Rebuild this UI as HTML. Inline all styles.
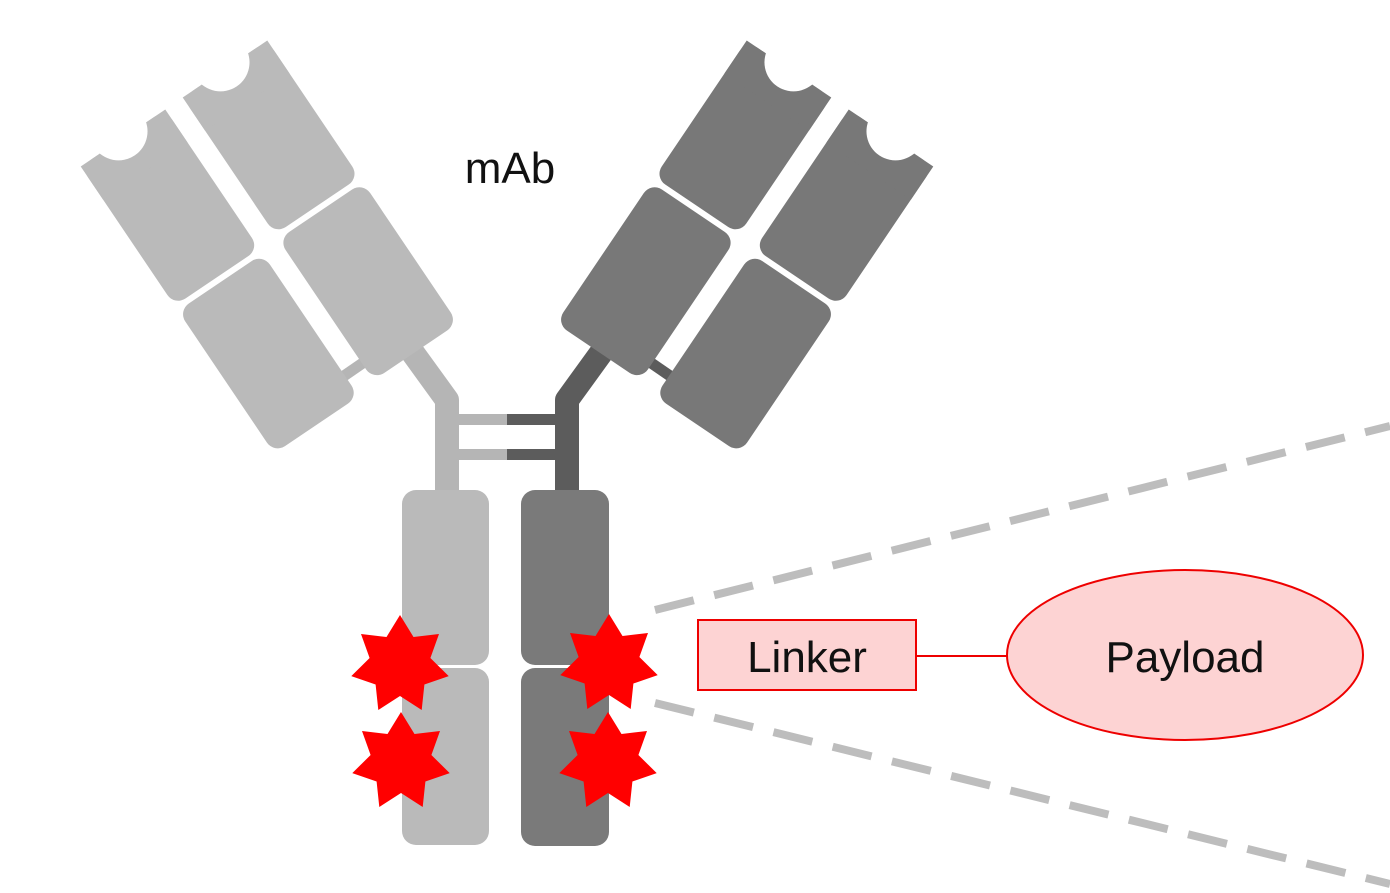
<!DOCTYPE html>
<html><head><meta charset="utf-8"><style>
html,body{margin:0;padding:0;background:#fff;}
svg{display:block;}
text{font-family:"Liberation Sans",sans-serif;fill:#111;}
</style></head><body>
<svg width="1390" height="893" viewBox="0 0 1390 893" xmlns="http://www.w3.org/2000/svg">
<!-- left arm -->
<g fill="#bababa">
  <path d="M405,342 L447,400 L447,495" fill="none" stroke="#b5b5b5" stroke-width="24" stroke-linejoin="round"/>
  <line x1="338" y1="380" x2="370" y2="358" stroke="#b5b5b5" stroke-width="11"/>
  <g transform="translate(123,138) rotate(-34)">
    <rect x="-51" y="0" width="102" height="168" rx="13"/>
    <rect x="-51" y="0" width="102" height="40"/>
    <rect x="-51" y="174" width="102" height="172" rx="13"/>
    <circle cx="0" cy="-8" r="29" fill="#fff"/>
  </g>
  <g transform="translate(225,69) rotate(-34)">
    <rect x="-51" y="0" width="102" height="165" rx="13"/>
    <rect x="-51" y="0" width="102" height="40"/>
    <rect x="-51" y="171" width="102" height="170" rx="13"/>
    <circle cx="0" cy="-8" r="29" fill="#fff"/>
  </g>
</g>
<!-- right arm (mirror) -->
<g fill="#787878" transform="translate(1014,0) scale(-1,1)">
  <path d="M405,342 L447,400 L447,495" fill="none" stroke="#5c5c5c" stroke-width="24" stroke-linejoin="round"/>
  <line x1="338" y1="380" x2="370" y2="358" stroke="#5c5c5c" stroke-width="11"/>
  <g transform="translate(123,138) rotate(-34)">
    <rect x="-51" y="0" width="102" height="168" rx="13"/>
    <rect x="-51" y="0" width="102" height="40"/>
    <rect x="-51" y="174" width="102" height="172" rx="13"/>
    <circle cx="0" cy="-8" r="29" fill="#fff"/>
  </g>
  <g transform="translate(225,69) rotate(-34)">
    <rect x="-51" y="0" width="102" height="165" rx="13"/>
    <rect x="-51" y="0" width="102" height="40"/>
    <rect x="-51" y="171" width="102" height="170" rx="13"/>
    <circle cx="0" cy="-8" r="29" fill="#fff"/>
  </g>
</g>
<!-- disulfide bridges -->
<rect x="458" y="414" width="49" height="11" fill="#b5b5b5"/>
<rect x="507" y="414" width="50" height="11" fill="#5c5c5c"/>
<rect x="458" y="449" width="49" height="11" fill="#b5b5b5"/>
<rect x="507" y="449" width="50" height="11" fill="#5c5c5c"/>
<!-- Fc -->
<rect x="402" y="490" width="87" height="175" rx="14" fill="#bababa"/>
<rect x="402" y="668" width="87" height="177" rx="14" fill="#bababa"/>
<rect x="521" y="490" width="88" height="175" rx="14" fill="#7a7a7a"/>
<rect x="521" y="668" width="88" height="178" rx="14" fill="#7a7a7a"/>
<!-- dashed lines -->
<line x1="655" y1="610" x2="1390" y2="426" stroke="#bdbdbd" stroke-width="8" stroke-dasharray="40,21"/>
<line x1="655" y1="703" x2="1390" y2="884" stroke="#bdbdbd" stroke-width="8" stroke-dasharray="40,21"/>
<!-- stars -->
<g fill="#ff0000">
<polygon points="0,-50 13.5,-28 39,-31 30.4,-7 48.7,11.1 24.4,19.5 21.7,45 0,31 -21.7,45 -24.4,19.5 -48.7,11.1 -30.4,-7 -39,-31 -13.5,-28" transform="translate(400,665)"/>
<polygon points="0,-50 13.5,-28 39,-31 30.4,-7 48.7,11.1 24.4,19.5 21.7,45 0,31 -21.7,45 -24.4,19.5 -48.7,11.1 -30.4,-7 -39,-31 -13.5,-28" transform="translate(401,762)"/>
<polygon points="0,-50 13.5,-28 39,-31 30.4,-7 48.7,11.1 24.4,19.5 21.7,45 0,31 -21.7,45 -24.4,19.5 -48.7,11.1 -30.4,-7 -39,-31 -13.5,-28" transform="translate(609,664)"/>
<polygon points="0,-50 13.5,-28 39,-31 30.4,-7 48.7,11.1 24.4,19.5 21.7,45 0,31 -21.7,45 -24.4,19.5 -48.7,11.1 -30.4,-7 -39,-31 -13.5,-28" transform="translate(608,762)"/>
</g>
<!-- linker & payload -->
<line x1="916" y1="656" x2="1008" y2="656" stroke="#ee0000" stroke-width="2"/>
<rect x="698" y="620" width="218" height="70" fill="#fdd3d3" stroke="#ee0000" stroke-width="2"/>
<ellipse cx="1185" cy="655" rx="178" ry="85" fill="#fdd3d3" stroke="#ee0000" stroke-width="2"/>
<text x="807" y="672" font-size="44" text-anchor="middle">Linker</text>
<text x="1185" y="672" font-size="44" text-anchor="middle">Payload</text>
<text x="510" y="183" font-size="44" text-anchor="middle">mAb</text>
</svg>
</body></html>
